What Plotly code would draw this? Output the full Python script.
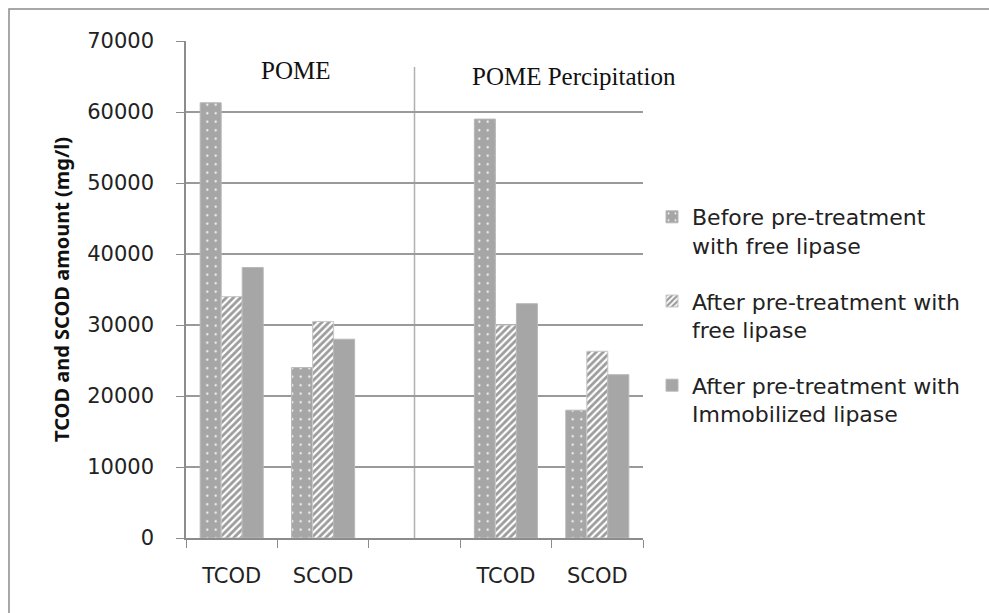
import plotly.graph_objects as go

# Sample groups and the two COD measures reported for each
groups = ["POME", "POME Percipitation"]
measures = ["TCOD", "SCOD"]

# COD amounts (mg/l) per slot: POME TCOD, POME SCOD, spacer, Percip. TCOD, Percip. SCOD
before_free = [61300, 24000, None, 59000, 18000]
after_free = [34000, 30500, None, 30000, 26300]
after_immobilized = [38100, 28000, None, 33000, 23000]

series_names = [
    "Before pre-treatment<br>with free lipase",
    "After pre-treatment with<br>free lipase",
    "After pre-treatment with<br>Immobilized lipase",
]

y_ticks = [0, 10000, 20000, 30000, 40000, 50000, 60000, 70000]

# Category slots: each group's measures, with an empty slot between groups
slot_ids = []
slot_text = []
for gi, g in enumerate(groups):
    for m in measures:
        slot_ids.append(f"{g}|{m}")
        slot_text.append(m)
    if gi < len(groups) - 1:
        slot_ids.append("gap")
        slot_text.append("")

GRAY = "#a6a6a6"
TXT = "#222222"
W, H = 989, 613
L, R, T, B = 186, 346, 41, 75

fig = go.Figure()
fig.add_trace(go.Bar(
    x=slot_ids, y=before_free, name=series_names[0],
    marker=dict(color=GRAY, line=dict(color="#b8b8b8", width=1),
                pattern=dict(shape=".", fgcolor="white", bgcolor=GRAY,
                             size=8.5, solidity=0.05, fillmode="replace")),
    legendgroup="a",
))
fig.add_trace(go.Bar(
    x=slot_ids, y=after_free, name=series_names[1],
    marker=dict(color="white", line=dict(color="#c8c8c8", width=1),
                pattern=dict(shape="/", fgcolor="#9c9c9c", bgcolor="white",
                             size=5, solidity=0.55, fillmode="replace")),
    legendgroup="b",
))
fig.add_trace(go.Bar(
    x=slot_ids, y=after_immobilized, name=series_names[2],
    marker=dict(color=GRAY, line=dict(color="#b8b8b8", width=1)),
    legendgroup="c",
))

plot_w = W - L - R
plot_h = H - T - B

def px_to_paper_x(px):
    return (px - L) / plot_w

def px_to_paper_y(py):
    return (H - B - py) / plot_h

shapes = [
    # outer chart frame (right and bottom edges run past the page)
    dict(type="rect", xref="paper", yref="paper",
         x0=px_to_paper_x(9), x1=px_to_paper_x(1020),
         y0=px_to_paper_y(640), y1=px_to_paper_y(9),
         line=dict(color="#8c8c8c", width=1.5), fillcolor="rgba(0,0,0,0)", layer="below"),
    # divider between the two sample groups
    dict(type="line", xref="x", yref="paper",
         x0=slot_ids.index("gap"), x1=slot_ids.index("gap"),
         y0=0, y1=px_to_paper_y(67),
         line=dict(color="#b0b0b0", width=1.5), layer="below"),
]

annotations = [
    dict(text=groups[0], xref="paper", yref="paper",
         x=px_to_paper_x(295), y=px_to_paper_y(71), showarrow=False,
         font=dict(family="Liberation Serif", size=25, color="#111"),
         xanchor="center", yanchor="middle"),
    dict(text=groups[1], xref="paper", yref="paper",
         x=px_to_paper_x(574), y=px_to_paper_y(76), showarrow=False,
         font=dict(family="Liberation Serif", size=25, color="#111"),
         xanchor="center", yanchor="middle"),
]

fig.update_layout(
    width=W, height=H,
    margin=dict(l=L, r=R, t=T, b=B, pad=0),
    paper_bgcolor="white", plot_bgcolor="white",
    barmode="group", bargap=0.31, bargroupgap=0,
    font=dict(family="DejaVu Sans", size=21, color=TXT),
    showlegend=True,
    legend=dict(
        x=px_to_paper_x(652), y=px_to_paper_y(196), xanchor="left", yanchor="top",
        font=dict(family="DejaVu Sans", size=22, color=TXT),
        traceorder="grouped", tracegroupgap=24, valign="top",
        bgcolor="rgba(0,0,0,0)", itemwidth=30,
    ),
    shapes=shapes,
    annotations=annotations,
)

fig.update_xaxes(
    type="category", categoryorder="array", categoryarray=slot_ids,
    tickmode="array", tickvals=slot_ids, ticktext=slot_text,
    tickson="boundaries", ticks="outside", ticklen=8, tickcolor="#8c8c8c",
    showline=True, linecolor="#8c8c8c", linewidth=1.5,
    showgrid=False, ticklabelstandoff=18,
    range=[-0.5, len(slot_ids) - 0.5],
    tickfont=dict(family="DejaVu Sans", size=21, color=TXT),
)
fig.update_yaxes(
    range=[0, 70000], tickvals=y_ticks, tickformat="d",
    ticks="outside", ticklen=8, tickcolor="#8c8c8c",
    showline=True, linecolor="#8c8c8c", linewidth=1.5,
    showgrid=True, gridcolor="#9a9a9a", gridwidth=1.5,
    zeroline=False, ticklabelstandoff=18,
    tickfont=dict(family="DejaVu Sans", size=21, color=TXT),
    title=dict(text="<b>TCOD and SCOD amount (mg/l)</b>", standoff=12,
               font=dict(family="Noto Sans", size=20, color="#111")),
)

fig.write_html("out.html")
